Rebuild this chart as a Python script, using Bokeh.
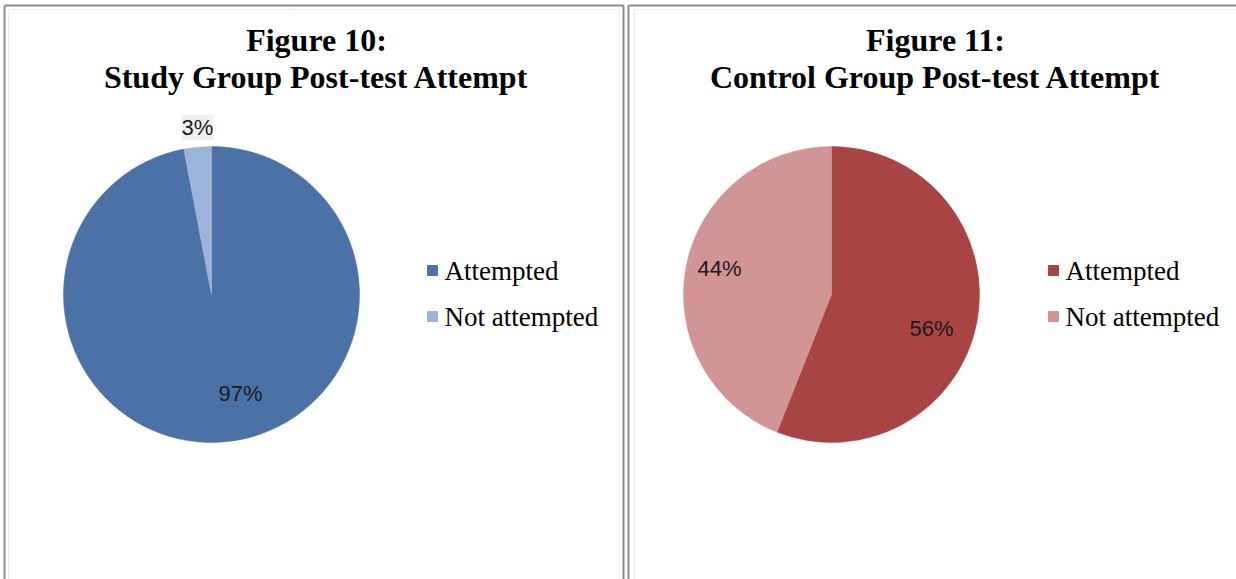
import math
from bokeh.plotting import figure
from bokeh.models import Range1d
from bokeh.core.properties import value
from bokeh.embed import file_html
from bokeh.resources import INLINE

W, H = 1236, 579

# ---- data ----
titles = [["Figure 10:", "Study Group Post-test Attempt"],
          ["Figure 11:", "Control Group Post-test Attempt"]]
categories = ["Attempted", "Not attempted"]
study_values = [97, 3]
control_values = [56, 44]
study_colors = ["#4A72A6", "#9DB4DA"]
control_colors = ["#A84444", "#D29595"]

p = figure(width=W, height=H, output_backend="svg", toolbar_location=None,
           x_range=Range1d(0, W), y_range=Range1d(0, H),
           x_axis_type=None, y_axis_type=None, min_border=0)
p.grid.visible = False
p.outline_line_color = None
p.background_fill_color = "white"

def Y(yimg):
    return H - yimg

# panel frames
frame_col = "#8c8c8c"
p.multi_line(xs=[[4, 4], [623, 623], [628, 628], [4, 623], [628, W]],
             ys=[[Y(5), Y(H)], [Y(5), Y(H)], [Y(5), Y(H)], [Y(5), Y(5)], [Y(5), Y(5)]],
             line_color=frame_col, line_width=2)
p.multi_line(xs=[[8, 8], [618, 618], [634, 634], [8, 618], [634, W]],
             ys=[[Y(9), Y(H)], [Y(9), Y(H)], [Y(9), Y(H)], [Y(9), Y(9)], [Y(9), Y(9)]],
             line_color="#eeeeee", line_width=1)

panels = [
    dict(cx=211, cy=294, r=148, values=study_values, colors=study_colors,
         title=titles[0], tx=316, legx=432,
         labpos=[(240, 393), (197, 127)], labbg=[False, True]),
    dict(cx=831, cy=294, r=148, values=control_values, colors=control_colors,
         title=titles[1], tx=935, legx=1053,
         labpos=[(931, 328), (719, 268)], labbg=[False, False]),
]

for pan in panels:
    vals = pan["values"]
    total = float(sum(vals))
    start = math.pi / 2
    for v, c in zip(vals, pan["colors"]):
        end = start - 2 * math.pi * v / total
        p.wedge(x=[pan["cx"]], y=[Y(pan["cy"])], radius=pan["r"],
                start_angle=start, end_angle=end, direction="clock",
                fill_color=c, line_color=c, line_width=0.5)
        start = end
    # percentage labels
    for v, (lx, ly), bg in zip(vals, pan["labpos"], pan["labbg"]):
        p.text(x=[lx], y=[Y(ly)], text=[f"{v}%"], text_align="center",
               text_baseline="middle", text_font=value("Liberation Sans"),
               text_font_size="22px", text_color="#1a1a1a",
               background_fill_color="#f0f0f0" if bg else None)
    # titles
    p.text(x=[pan["tx"]], y=[Y(39)], text=[pan["title"][0]], text_align="center",
           text_baseline="middle", text_font=value("Liberation Serif"),
           text_font_style="bold", text_font_size="32px", text_color="black")
    p.text(x=[pan["tx"]], y=[Y(76)], text=[pan["title"][1]], text_align="center",
           text_baseline="middle", text_font=value("Liberation Serif"),
           text_font_style="bold", text_font_size="32px", text_color="black")
    # legend
    for i, (cat, c) in enumerate(zip(categories, pan["colors"])):
        ly = 270 + 46 * i
        p.scatter(x=[pan["legx"]], y=[Y(ly)], marker="square", size=10,
                  fill_color=c, line_color=c)
        p.text(x=[pan["legx"] + 12], y=[Y(ly)], text=[cat], text_align="left",
               text_baseline="middle", text_font=value("Liberation Serif"),
               text_font_size="27px", text_color="black")

open("out.html", "w").write(file_html(p, INLINE))
